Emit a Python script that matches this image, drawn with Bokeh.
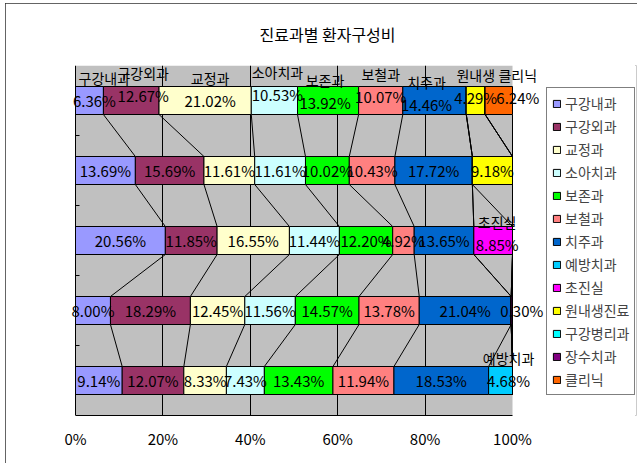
from bokeh.plotting import figure
from bokeh.models import ColumnDataSource, FixedTicker, Legend, LegendItem, BoxAnnotation
from bokeh.core.properties import value
from bokeh.embed import file_html
from bokeh.resources import INLINE

FONT = "Noto Sans CJK KR"
NUM_FONT = "'Liberation Sans Narrow', 'Noto Sans CJK KR'"

title_text = "진료과별 환자구성비"
hospitals = ["YS병원", "SN병원", "DK병원", "KH병원", "KA병원"]  # top to bottom
depts = ["구강내과", "구강외과", "교정과", "소아치과", "보존과", "보철과", "치주과",
         "예방치과", "초진실", "원내생진료", "구강병리과", "장수치과", "클리닉"]
colors = ["#9999FF", "#993366", "#FFFFCC", "#CCFFFF", "#00FF00", "#FF8080", "#0066CC",
          "#00CCFF", "#FF00FF", "#FFFF00", "#00FFFF", "#800080", "#FF6600"]

# values (%) per department, in hospital order YS, SN, DK, KH, KA
oral_medicine = [6.36, 13.69, 20.56, 8.00, 9.14]
oral_surgery = [12.67, 15.69, 11.85, 18.29, 12.07]
orthodontics = [21.02, 11.61, 16.55, 12.45, 8.33]
pediatric = [10.53, 11.61, 11.44, 11.56, 7.43]
conservative = [13.92, 10.02, 12.20, 14.57, 13.43]
prosthodontics = [10.07, 10.43, 4.92, 13.78, 11.94]
periodontics = [14.46, 17.72, 13.65, 21.04, 18.53]
preventive = [0, 0, 0, 0, 4.68]
first_visit = [0, 0, 8.85, 0, 0]
student_clinic = [4.29, 9.18, 0, 0, 0]
oral_pathology = [0, 0, 0, 0, 0]
geriatric = [0, 0, 0, 0.30, 0]
clinic = [6.24, 0, 0, 0, 0]

series = [oral_medicine, oral_surgery, orthodontics, pediatric, conservative,
          prosthodontics, periodontics, preventive, first_visit, student_clinic,
          oral_pathology, geriatric, clinic]

# series-name labels shown on the chart (hospital, department, text)
name_labels = [("YS병원", "구강내과", "구강내과"), ("YS병원", "구강외과", "구강외과"),
               ("YS병원", "교정과", "교정과"), ("YS병원", "소아치과", "소아치과"),
               ("YS병원", "보존과", "보존과"), ("YS병원", "보철과", "보철과"),
               ("YS병원", "치주과", "치주과"), ("YS병원", "원내생진료", "원내생"),
               ("YS병원", "클리닉", "클리닉"), ("DK병원", "초진실", "초진실"),
               ("KA병원", "예방치과", "예방치과")]

x_ticks = [0, 20, 40, 60, 80, 100]
x_tick_labels = ["0%", "20%", "40%", "60%", "80%", "100%"]

# hand-placed data-label nudges (screen px: dx right, dy down), as in the original
label_nudges = {("YS병원", "구강내과"): (5, 0), ("YS병원", "구강외과"): (12, -5),
                ("YS병원", "교정과"): (5, 0), ("YS병원", "소아치과"): (3, -6),
                ("YS병원", "보존과"): (-3, 2), ("YS병원", "보철과"): (0, -4),
                ("YS병원", "치주과"): (-8, 4), ("YS병원", "원내생진료"): (0, -3),
                ("YS병원", "클리닉"): (19, -3), ("DK병원", "초진실"): (4, 4),
                ("KA병원", "예방치과"): (8, 0), ("KH병원", "장수치과"): (10, 0)}

n = len(hospitals)
ypos = [n - 1 - i for i in range(n)]
BAR_H = 0.4
VAL_SIZE = 15
NAME_SIZE = 14
NAME_DY = -23

# layout (page pixels): figure at (5,3); plot area 75..512 x 62..415; frame 70..636
OX, OY = 5, 3
FIG_W, FIG_H = 632, 462
PX_PER_UNIT = (512 - 75) / 100.0
FRAME_L, FRAME_R = 70, 636
x_start = -(75 - FRAME_L) / PX_PER_UNIT
x_end = 100 + (FRAME_R - 512) / PX_PER_UNIT

# normalise each hospital row to 100 % (100% stacked bar)
totals = [sum(s[i] for s in series) for i in range(n)]
lefts, rights = [], []
for i in range(n):
    acc = 0.0
    l_row, r_row = [], []
    for s in series:
        w = s[i] / totals[i] * 100.0
        l_row.append(acc)
        acc += w
        r_row.append(acc)
    lefts.append(l_row)
    rights.append(r_row)


def text_w(s, size):
    w = 0.0
    for c in s:
        if ord(c) > 0x1100:
            w += size
        elif c == "%":
            w += 0.73 * size
        elif c == ".":
            w += 0.23 * size
        else:
            w += 0.46 * size
    return w


def clamp_left(cx, s, size):
    hw = text_w(s, size) / 2 / PX_PER_UNIT
    return max(cx, x_start + hw + 0.2)


p = figure(width=FIG_W, height=FIG_H, x_range=(x_start, x_end), y_range=(-0.5, n - 0.5),
           output_backend="svg", toolbar_location=None,
           min_border_left=FRAME_L - OX, min_border_top=62 - OY,
           min_border_right=OX + FIG_W - FRAME_R, min_border_bottom=OY + FIG_H - 415)
p.styles = {"margin": f"{OY}px 0px 0px {OX}px", "outline": "2px solid #303030",
            "outline-offset": "-2px", "clip-path": "inset(0px 0px 2px 0px)"}
p.background_fill_color = "white"
p.border_fill_color = "white"
p.outline_line_color = None

# grey plot area
p.add_layout(BoxAnnotation(left=0, right=100, bottom=-0.5, top=n - 0.5,
                           fill_color="#C0C0C0", fill_alpha=1, line_color=None, level="image"))

p.title.text = title_text
p.title.align = "left"
p.title.vertical_align = "top"
p.title.offset = 189
p.title.text_font = FONT
p.title.text_font_size = "16px"
p.title.text_font_style = "normal"
p.title.text_color = "black"
p.title.standoff = 36

# series lines between adjacent bars
x0s, y0s, x1s, y1s = [], [], [], []
for i in range(n - 1):
    for j in range(len(series)):
        x0s.append(rights[i][j]); y0s.append(ypos[i] - BAR_H / 2)
        x1s.append(rights[i + 1][j]); y1s.append(ypos[i + 1] + BAR_H / 2)
p.segment(x0=x0s, y0=y0s, x1=x1s, y1=y1s, line_color="black", line_width=1)

items = []
for j, (name, col) in enumerate(zip(depts, colors)):
    src = ColumnDataSource(dict(y=ypos, left=[lefts[i][j] for i in range(n)],
                                right=[rights[i][j] for i in range(n)]))
    r = p.hbar(y="y", left="left", right="right", height=BAR_H, source=src,
               fill_color=col, line_color="black", line_width=1)
    items.append(LegendItem(label=name, renderers=[r]))

# value labels
vals = dict(x=[], y=[], text=[], dx=[], dy=[])
for i in range(n):
    for j, s in enumerate(series):
        if s[i] > 0:
            t = f"{s[i]:.2f}%"
            dx, dy = label_nudges.get((hospitals[i], depts[j]), (0, 0))
            vals["x"].append(clamp_left((lefts[i][j] + rights[i][j]) / 2, t, VAL_SIZE))
            vals["y"].append(ypos[i])
            vals["text"].append(t)
            vals["dx"].append(dx)
            vals["dy"].append(dy)
p.text(x="x", y="y", text="text", x_offset="dx", y_offset="dy",
       source=ColumnDataSource(vals), text_font=value(NUM_FONT),
       text_font_size=f"{VAL_SIZE}px", text_align="center", text_baseline="middle",
       text_color="black")

# name labels
names = dict(x=[], y=[], text=[], dx=[], dy=[])
for h, d, t in name_labels:
    i = hospitals.index(h); j = depts.index(d)
    dx, dy = label_nudges.get((h, d), (0, 0))
    names["x"].append(clamp_left((lefts[i][j] + rights[i][j]) / 2, t, NAME_SIZE))
    names["y"].append(ypos[i])
    names["text"].append(t)
    names["dx"].append(dx)
    names["dy"].append(dy + NAME_DY)
p.text(x="x", y="y", text="text", x_offset="dx", y_offset="dy",
       source=ColumnDataSource(names), text_font=value(FONT),
       text_font_size=f"{NAME_SIZE}px", text_align="center", text_baseline="middle",
       text_color="black")

# axes
p.xaxis.ticker = FixedTicker(ticks=x_ticks)
p.xaxis.major_label_overrides = {t: l for t, l in zip(x_ticks, x_tick_labels)}
p.xaxis.bounds = (0, 100)
p.xaxis.major_tick_out = 0
p.xaxis.major_tick_in = 0
p.xaxis.minor_tick_out = 0
p.xaxis.major_label_standoff = 12
p.xaxis.axis_line_color = "black"

p.yaxis.fixed_location = 0
p.yaxis.ticker = FixedTicker(ticks=ypos, minor_ticks=[k + 0.5 for k in range(n - 1)])
p.yaxis.major_label_overrides = {ypos[i]: hospitals[i] for i in range(n)}
p.yaxis.major_tick_out = 0
p.yaxis.major_tick_in = 0
p.yaxis.minor_tick_out = 0
p.yaxis.minor_tick_in = 4
p.yaxis.minor_tick_line_color = "black"
p.yaxis.major_label_standoff = 8
p.yaxis.axis_line_color = "black"

p.xaxis.major_label_text_font = NUM_FONT
p.xaxis.major_label_text_font_size = "15px"
p.xaxis.major_label_text_color = "black"
p.yaxis.major_label_text_font = NUM_FONT
p.yaxis.major_label_text_font_size = "15px"
p.yaxis.major_label_text_color = "black"

p.xgrid.ticker = FixedTicker(ticks=[20, 40, 60, 80])
p.xgrid.grid_line_color = "black"
p.xgrid.grid_line_width = 1
p.ygrid.grid_line_color = None

lg = Legend(items=items, location=(546 - FRAME_L, 20))
lg.border_line_color = "black"
lg.border_line_width = 1
lg.background_fill_color = "white"
lg.background_fill_alpha = 1
lg.label_text_font = FONT
lg.label_text_font_size = "14px"
lg.glyph_width = 9
lg.glyph_height = 9
lg.label_standoff = 4
lg.padding = 5
lg.spacing = 3
lg.label_height = 20
lg.margin = 0
p.add_layout(lg, "center")

open("out.html", "w").write(file_html(p, INLINE))
